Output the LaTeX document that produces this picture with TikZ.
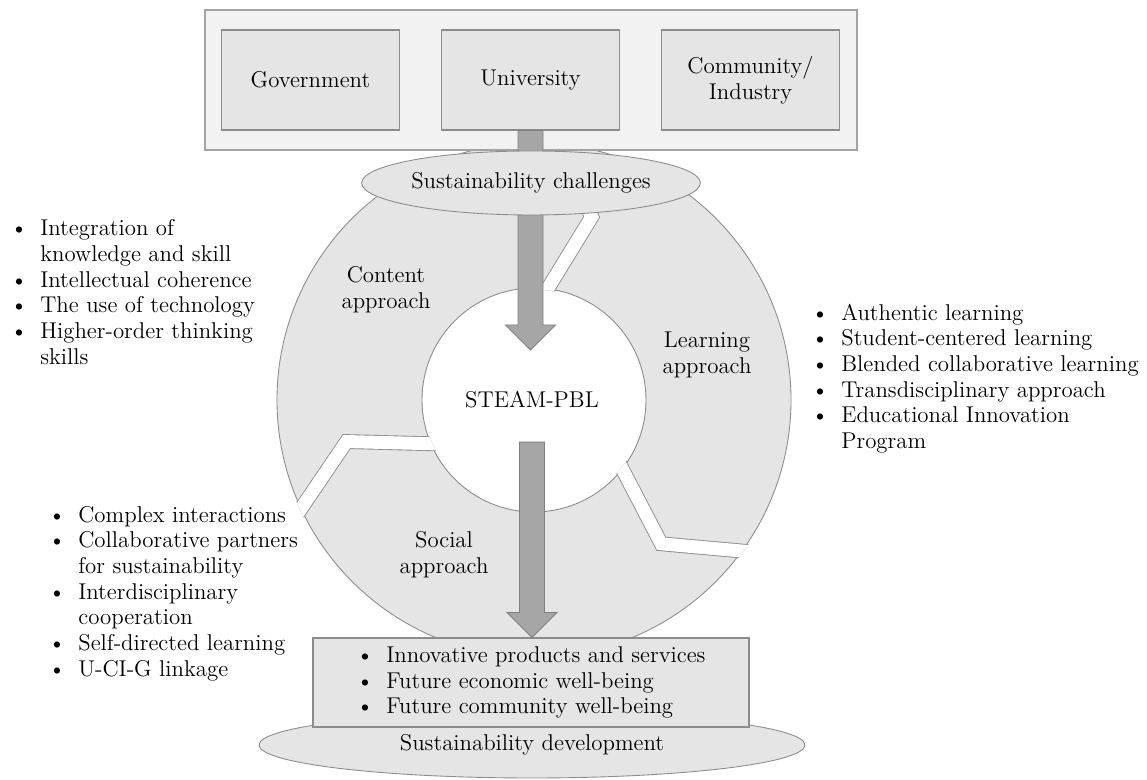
\documentclass[tikz,border=0pt]{standalone}
\usepackage{fontspec}
\usepackage{tikz}
\usetikzlibrary{shapes.geometric,calc,positioning}
\definecolor{PanelFill}{RGB}{242,242,242}
\definecolor{BoxFill}{RGB}{229,229,229}
\definecolor{EdgeGray}{RGB}{140,140,140}
\definecolor{ArrowFill}{RGB}{166,166,166}
\definecolor{ArrowEdge}{RGB}{128,128,128}

\newcommand{\bodyfont}{\fontsize{13}{14.6}\selectfont}
\newcommand{\bitem}{\makebox[0.6cm][l]{\textbullet}}
\newcommand{\bcont}{\hspace*{0.6cm}}
% fat block arrow pointing down, from #1 to the tip at #2
\newcommand{\blockarrow}[2]{%
  \draw[blockarrow] let \p1=(#1), \p2=(#2) in
    (\x1-0.25cm,\y1) -- (\x1-0.25cm,\y2+0.5cm) -- (\x1-0.5cm,\y2+0.5cm)
    -- (\x1,\y2) -- (\x1+0.5cm,\y2+0.5cm) -- (\x1+0.25cm,\y2+0.5cm)
    -- (\x1+0.25cm,\y1) -- cycle;}

\begin{document}
\begin{tikzpicture}[
  font=\bodyfont,
  panel/.style={draw=EdgeGray!80,fill=PanelFill,line width=0.6pt},
  partner/.style={draw=EdgeGray,fill=BoxFill,line width=0.6pt,
                  minimum width=3.56cm,minimum height=2cm,align=center},
  ring/.style={draw=EdgeGray,fill=BoxFill,line width=0.5pt},
  gap/.style={draw=EdgeGray,line width=0.5pt,double=white,double distance=0.26cm},
  oval/.style={ellipse,draw=EdgeGray,fill=BoxFill,line width=0.5pt,inner sep=0pt},
  outcome/.style={draw=EdgeGray,fill=BoxFill,line width=0.6pt,
                  minimum width=8.72cm,minimum height=1.78cm,align=left},
  blockarrow/.style={draw=ArrowEdge,fill=ArrowFill,line width=0.5pt},
  bullets/.style={align=left,inner sep=0pt,anchor=west},
  seglabel/.style={align=center},
]
\useasboundingbox (0,0) rectangle (22.94,15.6);

% the three approach segments
\coordinate (c) at (10.68,7.6);
\draw[ring,even odd rule] (c) circle (5.14) (c) circle (2.24);
\begin{scope}[even odd rule]
  \clip (c) circle (5.17) (c) circle (2.21);
  \foreach \a in {203,83,322} {
    \coordinate (gi) at ($(c)+(\a:2.24)$);
    \coordinate (gk) at ($(c)+(\a-10.5:3.84)$);
    \coordinate (go) at ($(c)+(\a+2:5.14)$);
    \draw[gap] ($(gk)!1.4!(gi)$) -- (gk) -- ($(gk)!1.3!(go)$);
  }
\end{scope}

% partners on top
\node[panel,minimum width=13.04cm,minimum height=2.8cm] (panel) at (10.62,14.0) {};
\node[partner] (univ) at (10.61,14.0) {University};
\node[partner,left=0.82cm of univ] (gov) {Government};
\node[partner,right=0.82cm of univ] (comm) {Community/\\Industry};

\coordinate (tip1) at (10.61,8.6);
\blockarrow{univ.south}{tip1}
\node[oval,minimum width=6cm,minimum height=1.28cm] (chall) at (10.62,11.94)
  {Sustainability challenges};

\node[seglabel] (content) at (7.72,9.8) {Content\\approach};
\node[seglabel] (learning) at (14.14,8.5) {Learning\\approach};
\node[seglabel] (social) at (8.88,4.5) {Social\\approach};
\node (steam) at (10.64,7.6) {STEAM-PBL};

% outcomes
\node[oval,minimum width=10.92cm,minimum height=1.32cm] (dev) at (10.64,0.7)
  {Sustainability development};
\node[outcome] (outcome) at (10.62,1.95)
  {\bitem Innovative products and services\\
   \bitem Future economic well-being\\
   \bitem Future community well-being};
\coordinate (start2) at (10.64,6.76);
\blockarrow{start2}{outcome.north}

% bullet lists beside the cycle
\node[bullets] (contentlist) at (0.2,9.76)
  {\bitem Integration of\\
   \bcont knowledge and skill\\
   \bitem Intellectual coherence\\
   \bitem The use of technology\\
   \bitem Higher-order thinking\\
   \bcont skills};
\node[bullets] (learninglist) at (16.22,8.03)
  {\bitem Authentic learning\\
   \bitem Student-centered learning\\
   \bitem Blended collaborative learning\\
   \bitem Transdisciplinary approach\\
   \bitem Educational Innovation\\
   \bcont Program};
\node[bullets] (sociallist) at (0.96,3.73)
  {\bitem Complex interactions\\
   \bitem Collaborative partners\\
   \bcont for sustainability\\
   \bitem Interdisciplinary\\
   \bcont cooperation\\
   \bitem Self-directed learning\\
   \bitem U-CI-G linkage};
\end{tikzpicture}
\end{document}
